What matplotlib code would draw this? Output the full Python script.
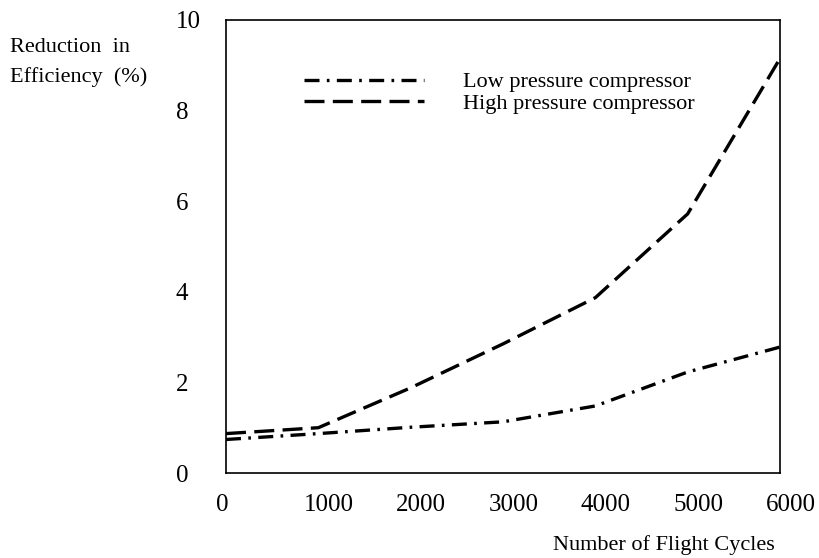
import matplotlib.pyplot as plt
from matplotlib.transforms import ScaledTranslation

plt.rcParams['font.family'] = 'Liberation Serif'

# data
cycles = [0, 1000, 2000, 3000, 4000, 5000, 6000]
low_pressure = [0.74, 0.87, 1.01, 1.13, 1.48, 2.23, 2.78]
high_pressure = [0.87, 1.0, 1.88, 2.85, 3.87, 5.72, 9.15]
xticks = [0, 1000, 2000, 3000, 4000, 5000, 6000]
yticks = [0, 2, 4, 6, 8, 10]

fig = plt.figure(figsize=(8.2, 5.58), dpi=100)
ax = fig.add_axes([0.2756, 0.1523, 0.6756, 0.8119])

ax.plot(cycles, low_pressure, color='black', lw=2.4,
        dashes=(4.5, 2.2, 0.8, 2.2), label='Low pressure compressor')
ax.plot(cycles, high_pressure, color='black', lw=2.4,
        dashes=(6, 2.5), label='High pressure compressor')

ax.set_xlim(0, 6000)
ax.set_ylim(0, 10)
ax.set_xticks(xticks)
ax.set_yticks(yticks)
ax.tick_params(length=0, labelsize=18)
ax.tick_params(axis='x', pad=15)
ax.tick_params(axis='y', pad=36)
for lab in ax.get_yticklabels():
    lab.set_horizontalalignment('left')
# the printed x labels sit a little right of their positions
for i, lab in enumerate(ax.get_xticklabels()):
    dx = -0.04 if i == 0 else 0.105
    lab.set_transform(lab.get_transform() + ScaledTranslation(dx, 0, fig.dpi_scale_trans))
for sp in ax.spines.values():
    sp.set_linewidth(1.2)

leg = ax.legend(loc='upper left', bbox_to_anchor=(0.125, 0.905), frameon=False,
                fontsize=16, handlelength=5.4, handletextpad=1.75,
                labelspacing=0.05, borderaxespad=0)

fig.text(10 / 820, 1 - 47 / 558, 'Reduction  in', fontsize=16, va='center', ha='left')
fig.text(10 / 820, 1 - 77 / 558, 'Efficiency  (%)', fontsize=16, va='center', ha='left')
fig.text(775 / 820, 1 - 545 / 558, 'Number of Flight Cycles', fontsize=16,
         va='center', ha='right')

fig.savefig('out.png', dpi=100)
